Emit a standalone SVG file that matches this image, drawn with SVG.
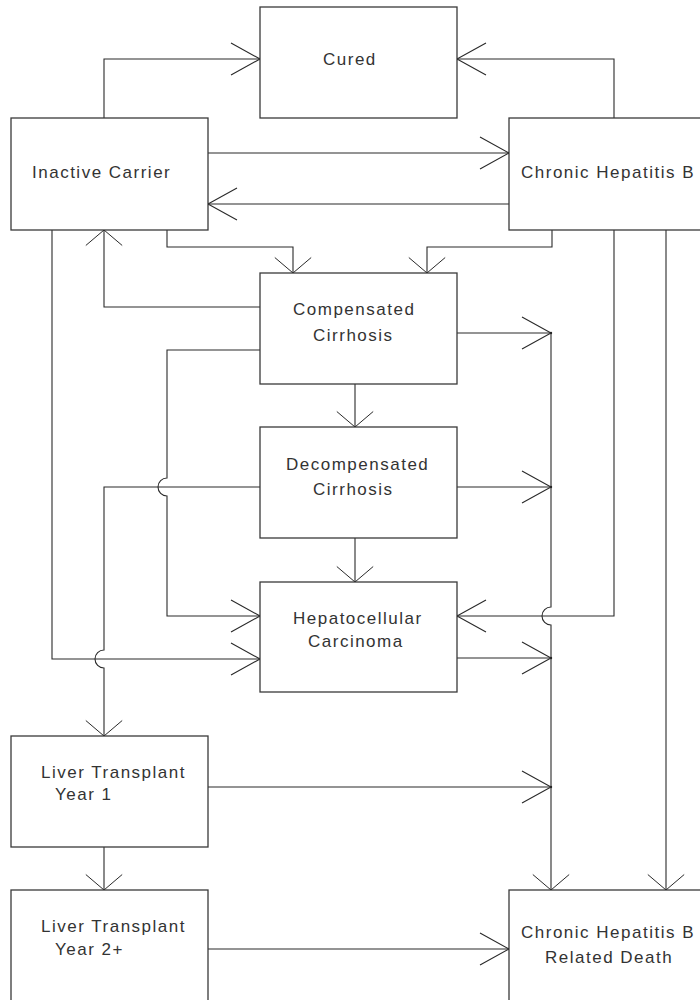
<svg xmlns="http://www.w3.org/2000/svg" width="700" height="1000" viewBox="0 0 700 1000">
  <style>
    .box { fill: #ffffff; stroke: #3a3a3a; stroke-width: 1.3; }
    .lbl { font-family: "Liberation Sans", Arial, sans-serif; font-size: 17px; letter-spacing: 1.5px; fill: #333333; }
    .edge { fill: none; stroke: #2a2a2a; stroke-width: 1.1; }
    .h { marker-end: url(#arrowH); }
    .v { marker-end: url(#arrowV); }
    .head { fill: none; stroke: #2a2a2a; stroke-width: 1.1; }
  </style>
  <defs>
    <!-- open V heads: horizontal runs use a long head, vertical runs a short wide one -->
    <marker id="arrowH" markerUnits="userSpaceOnUse" orient="auto" markerWidth="40" markerHeight="40" viewBox="-32 -20 36 40" refX="0" refY="0" overflow="visible">
      <path class="head" d="M-29,-16 L0,0 L-29,16"/>
      <circle cx="0" cy="0" r="1.2" fill="#222"/>
    </marker>
    <marker id="arrowV" markerUnits="userSpaceOnUse" orient="auto" markerWidth="40" markerHeight="40" viewBox="-20 -22 24 44" refX="0" refY="0" overflow="visible">
      <path class="head" d="M-17,-20 L0,0 L-17,20"/>
      <circle cx="0" cy="0" r="1.2" fill="#222"/>
    </marker>
  </defs>

  <rect width="700" height="1000" fill="#ffffff"/>

  <g id="connectors">
    <!-- to Cured -->
    <path class="edge h" d="M104,118 V59 H260"/>
    <path class="edge h" d="M614,118 V59 H457"/>
    <!-- Inactive Carrier <-> Chronic Hepatitis B -->
    <path class="edge h" d="M208,153 H509"/>
    <path class="edge h" d="M509,204 H208"/>
    <!-- into Compensated Cirrhosis -->
    <path class="edge v" d="M167,230 V247 H293 V273"/>
    <path class="edge v" d="M552,230 V247 H427 V273"/>
    <!-- Compensated Cirrhosis back to Inactive Carrier -->
    <path class="edge v" d="M260,307 H104 V230"/>
    <!-- cirrhosis chain -->
    <path class="edge v" d="M355,384 V427"/>
    <path class="edge v" d="M355,538 V582"/>
    <!-- Compensated Cirrhosis to HCC, hopping the Decompensated line -->
    <path class="edge h" d="M260,350 H167 V478 A9,9 0 0 0 167,496 V616 H260"/>
    <!-- Inactive Carrier to HCC -->
    <path class="edge h" d="M52,230 V659 H260"/>
    <!-- Decompensated Cirrhosis to Liver Transplant, hopping the Inactive Carrier line -->
    <path class="edge v" d="M260,487 H104 V650 A9,9 0 0 0 104,668 V736"/>
    <!-- Chronic Hepatitis B to HCC -->
    <path class="edge h" d="M614,230 V616 H457"/>
    <!-- feeders into the death collector -->
    <path class="edge h" d="M457,333 H551"/>
    <path class="edge h" d="M457,487 H551"/>
    <path class="edge h" d="M457,658 H551"/>
    <path class="edge h" d="M208,787 H551"/>
    <!-- death collector, hopping the Chronic Hepatitis B to HCC line -->
    <path class="edge v" d="M551,333 V607 A9,9 0 0 0 551,625 V890"/>
    <!-- Chronic Hepatitis B to death -->
    <path class="edge v" d="M666,230 V890"/>
    <!-- transplant chain -->
    <path class="edge v" d="M104,847 V890"/>
    <path class="edge h" d="M208,949 H509"/>
  </g>

  <g id="cured">
    <rect class="box" x="260" y="7" width="197" height="111"/>
    <text class="lbl" x="323" y="65">Cured</text>
  </g>
  <g id="inactive-carrier">
    <rect class="box" x="11" y="118" width="197" height="112"/>
    <text class="lbl" x="32" y="178">Inactive Carrier</text>
  </g>
  <g id="chronic-hepatitis-b">
    <rect class="box" x="509" y="118" width="215" height="112"/>
    <text class="lbl" x="521" y="178">Chronic Hepatitis B</text>
  </g>
  <g id="compensated-cirrhosis">
    <rect class="box" x="260" y="273" width="197" height="111"/>
    <text class="lbl" x="293" y="315">Compensated</text>
    <text class="lbl" x="313" y="341">Cirrhosis</text>
  </g>
  <g id="decompensated-cirrhosis">
    <rect class="box" x="260" y="427" width="197" height="111"/>
    <text class="lbl" x="286" y="470">Decompensated</text>
    <text class="lbl" x="313" y="495">Cirrhosis</text>
  </g>
  <g id="hepatocellular-carcinoma">
    <rect class="box" x="260" y="582" width="197" height="110"/>
    <text class="lbl" x="293" y="624">Hepatocellular</text>
    <text class="lbl" x="308" y="647">Carcinoma</text>
  </g>
  <g id="liver-transplant-year-1">
    <rect class="box" x="11" y="736" width="197" height="111"/>
    <text class="lbl" x="41" y="778">Liver Transplant</text>
    <text class="lbl" x="55" y="800">Year 1</text>
  </g>
  <g id="liver-transplant-year-2">
    <rect class="box" x="11" y="890" width="197" height="120"/>
    <text class="lbl" x="41" y="932">Liver Transplant</text>
    <text class="lbl" x="55" y="955">Year 2+</text>
  </g>
  <g id="related-death">
    <rect class="box" x="509" y="890" width="215" height="120"/>
    <text class="lbl" x="521" y="938">Chronic Hepatitis B</text>
    <text class="lbl" x="545" y="963">Related Death</text>
  </g>
</svg>
